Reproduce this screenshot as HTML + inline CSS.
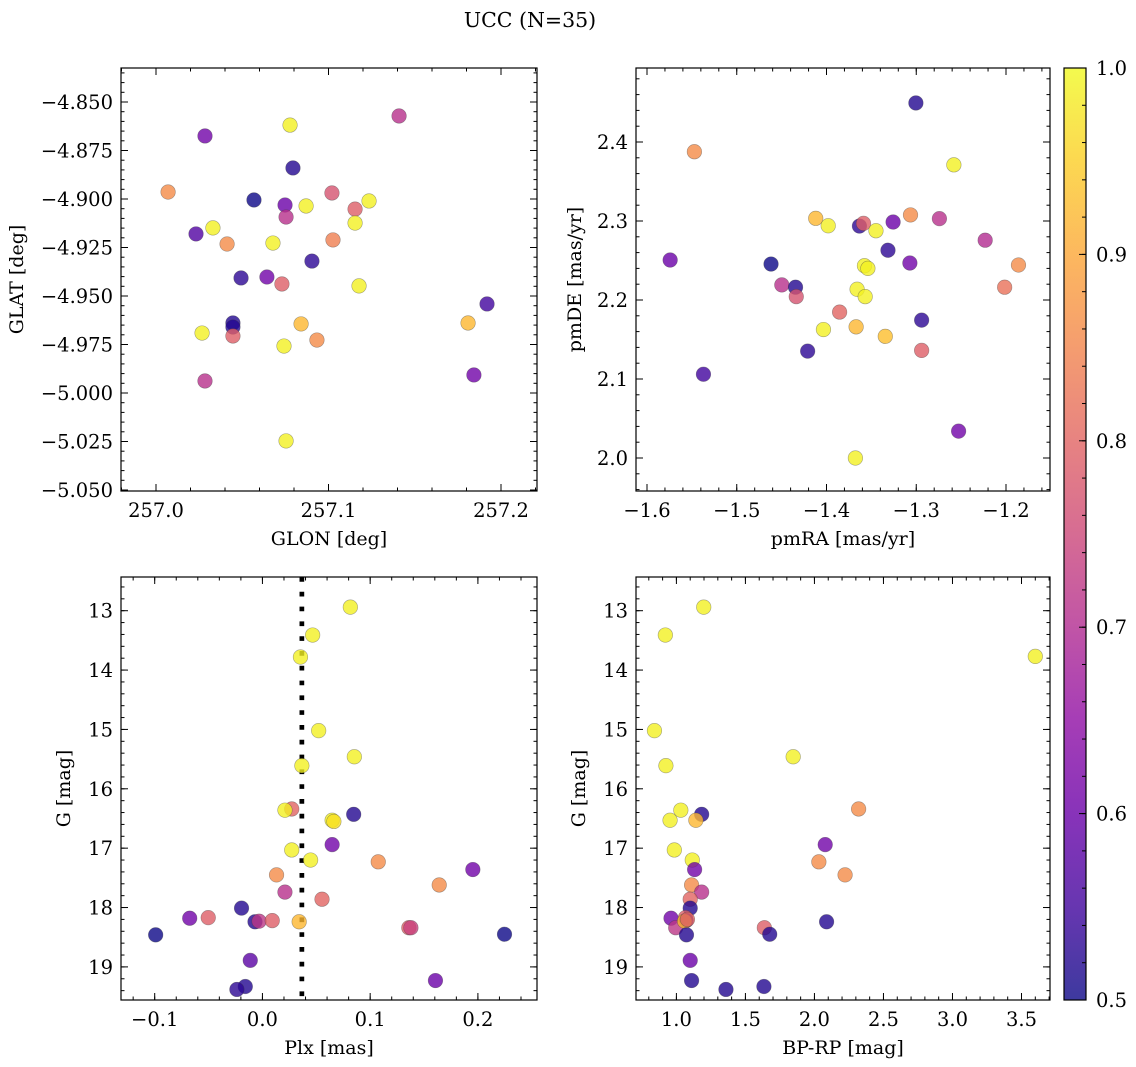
<!DOCTYPE html>
<html><head><meta charset="utf-8"><title>UCC (N=35)</title>
<style>
html,body{margin:0;padding:0;background:#fff;}
svg{display:block;font-family:"DejaVu Serif","Liberation Serif",serif;}
</style></head>
<body>
<svg id="fig" width="1136" height="1067" viewBox="0 0 1136 1067" xmlns="http://www.w3.org/2000/svg">
<defs>
<linearGradient id="plasmaGrad" x1="0" y1="1" x2="0" y2="0">
<stop offset="0" stop-color="#0d0887"/><stop offset="0.1" stop-color="#41049d"/><stop offset="0.2" stop-color="#6a00a8"/><stop offset="0.3" stop-color="#8f0da4"/><stop offset="0.4" stop-color="#b12a90"/><stop offset="0.5" stop-color="#cc4778"/><stop offset="0.6" stop-color="#e16462"/><stop offset="0.7" stop-color="#f2844b"/><stop offset="0.8" stop-color="#fca636"/><stop offset="0.9" stop-color="#fcce25"/><stop offset="1" stop-color="#f0f921"/>
</linearGradient>
</defs>
<text x="530" y="27" font-size="20.5" text-anchor="middle">UCC (N=35)</text>
</svg>
<script>
// ---------- Data ----------
const glon = [257.0284,257.0777,257.1409,257.0794,257.0070,257.0568,257.0748,257.0754,257.1020,257.0870,257.1154,257.1235,257.1154,257.0330,257.0232,257.0412,257.0678,257.1026,257.0904,257.0493,257.0643,257.0730,257.1177,257.1919,257.0446,257.0446,257.0446,257.0267,257.0841,257.1809,257.0742,257.0933,257.0284,257.1843,257.0754];
const glat = [-4.8675,-4.8619,-4.8572,-4.8840,-4.8964,-4.9005,-4.9031,-4.9093,-4.8969,-4.9036,-4.9052,-4.9010,-4.9124,-4.9149,-4.9180,-4.9232,-4.9227,-4.9211,-4.9320,-4.9407,-4.9402,-4.9438,-4.9448,-4.9541,-4.9639,-4.9660,-4.9706,-4.9691,-4.9644,-4.9639,-4.9758,-4.9727,-4.9938,-4.9907,-5.0247];
const probPos = [0.61,0.99,0.71,0.52,0.86,0.50,0.60,0.71,0.77,0.99,0.79,0.99,0.99,0.99,0.57,0.86,0.99,0.84,0.53,0.53,0.61,0.79,0.99,0.55,0.52,0.52,0.79,0.99,0.92,0.92,0.99,0.86,0.71,0.61,0.99];

const pmra = [-1.3004,-1.5472,-1.2581,-1.4120,-1.3981,-1.3633,-1.3588,-1.3449,-1.3258,-1.3064,-1.2742,-1.2232,-1.5742,-1.4618,-1.3315,-1.3071,-1.3577,-1.3539,-1.1861,-1.2015,-1.4498,-1.4345,-1.4337,-1.3854,-1.3659,-1.3569,-1.2940,-1.4034,-1.3670,-1.3345,-1.4210,-1.2940,-1.5371,-1.2528,-1.3678];
const pmde = [2.4494,2.3877,2.3711,2.3034,2.2940,2.2936,2.2970,2.2877,2.2987,2.3077,2.3030,2.2757,2.2506,2.2455,2.2630,2.2468,2.2434,2.2400,2.2443,2.2162,2.2191,2.2162,2.2043,2.1847,2.2136,2.2043,2.1745,2.1626,2.1660,2.1540,2.1353,2.1362,2.1060,2.0340,2.0000];
const probPm = [0.52,0.86,0.99,0.92,0.99,0.53,0.79,0.99,0.60,0.86,0.71,0.70,0.60,0.50,0.53,0.61,0.99,0.99,0.86,0.82,0.71,0.52,0.77,0.80,0.99,0.99,0.53,0.99,0.92,0.93,0.53,0.79,0.55,0.61,0.99];

const plx = [0.0816,0.0466,0.0353,0.0522,0.0853,0.0366,0.0272,0.0209,0.0847,0.0647,0.0663,0.0647,0.0272,0.0447,0.1075,0.1953,0.0131,0.1641,0.0209,0.0553,-0.0194,-0.0675,-0.0503,-0.0069,-0.0031,0.0091,0.0341,0.1359,0.1378,-0.0991,0.2247,-0.0113,0.1606,-0.0159,-0.0237];
const gPlx = [12.94,13.41,13.78,15.02,15.46,15.61,16.34,16.36,16.43,16.53,16.55,16.94,17.03,17.20,17.23,17.36,17.45,17.62,17.74,17.86,18.01,18.18,18.17,18.24,18.23,18.22,18.24,18.34,18.34,18.46,18.45,18.89,19.23,19.33,19.38];
const probPlx = [0.99,0.99,0.99,0.99,0.99,0.99,0.80,0.99,0.52,0.99,0.97,0.61,0.99,0.99,0.86,0.61,0.86,0.86,0.71,0.80,0.52,0.61,0.79,0.52,0.72,0.79,0.92,0.79,0.74,0.50,0.50,0.58,0.60,0.52,0.53];

const bprp = [1.198,0.920,3.600,0.841,0.924,1.846,2.320,1.032,1.183,0.954,1.141,2.078,0.985,1.115,2.032,1.132,2.222,1.110,1.183,1.100,1.100,0.961,1.066,1.071,0.995,1.059,2.088,1.637,1.676,1.073,1.100,1.110,1.359,1.634,1.080];
const gCmd = [12.94,13.41,13.77,15.02,15.61,15.46,16.34,16.36,16.43,16.53,16.53,16.94,17.03,17.20,17.23,17.36,17.45,17.62,17.74,17.86,18.01,18.18,18.17,18.22,18.34,18.23,18.24,18.34,18.45,18.46,18.89,19.23,19.38,19.33,18.20];
const probCmd = [0.99,0.99,0.99,0.99,0.99,0.99,0.86,0.99,0.52,0.99,0.92,0.61,0.99,0.99,0.86,0.61,0.86,0.86,0.71,0.80,0.52,0.61,0.79,0.52,0.72,0.92,0.52,0.79,0.52,0.52,0.60,0.52,0.52,0.52,0.80];

const plxLine = [0.0366];

const ticksGlon = [257.0,257.1,257.2];
const ticksGlat = [-4.850,-4.875,-4.900,-4.925,-4.950,-4.975,-5.000,-5.025,-5.050];
const ticksPmra = [-1.6,-1.5,-1.4,-1.3,-1.2];
const ticksPmde = [2.0,2.1,2.2,2.3,2.4];
const ticksPlx = [-0.1,0.0,0.1,0.2];
const ticksG = [13,14,15,16,17,18,19];
const ticksBprp = [1.0,1.5,2.0,2.5,3.0,3.5];
const ticksCbar = [0.5,0.6,0.7,0.8,0.9,1.0];

// ---------- Helpers ----------
const NS = "http://www.w3.org/2000/svg";
const svg = document.getElementById('fig');
const TICKFS = 19.5, LABFS = 19;
function mk(tag, attrs, parent){
  const e = document.createElementNS(NS, tag);
  for (const k in attrs) e.setAttribute(k, attrs[k]);
  (parent||svg).appendChild(e);
  return e;
}
function lin(d0,d1,p0,p1){ const f=v=>p0+(v-d0)*(p1-p0)/(d1-d0); f.inv=p=>d0+(p-p0)*(d1-d0)/(p1-p0); return f; }
const stops=[[13,8,135],[65,4,157],[106,0,168],[143,13,164],[177,42,144],[204,71,120],[225,100,98],[242,132,75],[252,166,54],[252,206,37],[240,249,33]];
function plasma(p){
  let t=Math.max(0,Math.min(1,(p-0.5)/0.5))*10; const i=Math.min(9,Math.floor(t)); const f=t-i;
  const a=stops[i], b=stops[i+1];
  return 'rgb('+[0,1,2].map(k=>Math.round(a[k]+(b[k]-a[k])*f)).join(',')+')';
}
function fmt(v,d){ const s=Math.abs(v).toFixed(d); return (v<0?'\u2212':'')+s; }

function axes(name, box, xs, ys, xTicks, xDec, xMinor, yTicks, yDec, yMinor, xlabel, ylabel, ylabelX){
  const [L,T,R,B]=box;
  const g = mk('g',{});
  
  
  const tk = mk('g',{stroke:'#000','stroke-width':1},g);
  
  
  const x0=xs.inv(L), x1=xs.inv(R);
  for(let v=Math.ceil(Math.min(x0,x1)/xMinor-1e-6)*xMinor; v<=Math.max(x0,x1)+1e-9; v+=xMinor){
    const px=xs(v); if(px<L+0.5||px>R-0.5) continue;
    mk('line',{x1:px,y1:B,x2:px,y2:B-3.5},tk); mk('line',{x1:px,y1:T,x2:px,y2:T+3.5},tk);
  }
  const y0=ys.inv(T), y1=ys.inv(B);
  for(let v=Math.ceil(Math.min(y0,y1)/yMinor-1e-6)*yMinor; v<=Math.max(y0,y1)+1e-9; v+=yMinor){
    const py=ys(v); if(py<T+0.5||py>B-0.5) continue;
    mk('line',{x1:L,y1:py,x2:L+3.5,y2:py},tk); mk('line',{x1:R,y1:py,x2:R-3.5,y2:py},tk);
  }
  xTicks.forEach(v=>{
    const px=xs(v);
    mk('line',{x1:px,y1:B,x2:px,y2:B-7},tk); mk('line',{x1:px,y1:T,x2:px,y2:T+7},tk);
    const t=mk('text',{x:px,y:B+26,'font-size':TICKFS,'text-anchor':'middle'},g); t.textContent=fmt(v,xDec);
    
    
  });
  yTicks.forEach(v=>{
    const py=ys(v);
    mk('line',{x1:L,y1:py,x2:L+7,y2:py},tk); mk('line',{x1:R,y1:py,x2:R-7,y2:py},tk);
    const t=mk('text',{x:L-8,y:py+7,'font-size':TICKFS,'text-anchor':'end'},g); t.textContent=fmt(v,yDec);
    
    
  });
  const fr=mk('rect',{x:L,y:T,width:R-L,height:B-T,fill:'none',stroke:'#000','stroke-width':1.2},g);
  
  
  const xl=mk('text',{x:(L+R)/2,y:B+54,'font-size':LABFS,'text-anchor':'middle'},g); xl.textContent=xlabel;
  
  
  const yl=mk('text',{x:0,y:0,'font-size':LABFS,'text-anchor':'middle',transform:'translate('+ylabelX+','+((T+B)/2)+') rotate(-90)'},g); yl.textContent=ylabel;
  
  
  return g;
}
function scatter(name, xs, ys, X, Y, P){
  const g=mk('g',{});
  
  
  for(let i=0;i<X.length;i++){
    const c=mk('circle',{cx:xs(X[i]),cy:ys(Y[i]),r:7.3,fill:plasma(P[i]),'fill-opacity':0.8,stroke:'rgba(60,60,60,0.45)','stroke-width':0.6},g);
    
    
  }
}

// ---------- Panel 1 ----------
const s1x=lin(257.0,257.2,156,501), s1y=lin(-4.85,-5.05,102,490);
axes('position-panel',[121,68,537,491],s1x,s1y,ticksGlon,1,0.02,ticksGlat,3,0.005,'GLON [deg]','GLAT [deg]',23);
scatter('position',s1x,s1y,glon,glat,probPos);

// ---------- Panel 2 ----------
const s2x=lin(-1.6,-1.2,647,1006), s2y=lin(2.4,2.0,142,458);
axes('proper-motion-panel',[636,68,1050,491],s2x,s2y,ticksPmra,1,0.02,ticksPmde,1,0.02,'pmRA [mas/yr]','pmDE [mas/yr]',581);
scatter('proper-motion',s2x,s2y,pmra,pmde,probPm);

// ---------- Panel 3 ----------
const s3x=lin(-0.1,0.2,154.7,477.9), s3y=lin(13,19,610.7,966.9);
axes('parallax-panel',[121,577,537,1000],s3x,s3y,ticksPlx,1,0.02,ticksG,0,0.2,'Plx [mas]','G [mag]',70);
plxLine.forEach(v=>{
  const l=mk('line',{x1:s3x(v),y1:577,x2:s3x(v),y2:1000,stroke:'#000','stroke-width':4.7,'stroke-dasharray':'4.7 10.1'});
  
  
});
scatter('parallax',s3x,s3y,plx,gPlx,probPlx);

// ---------- Panel 4 ----------
const s4x=lin(1.0,3.5,676.4,1021.5), s4y=lin(13,19,610.7,966.9);
axes('cmd-panel',[636,577,1050,1000],s4x,s4y,ticksBprp,1,0.1,ticksG,0,0.2,'BP-RP [mag]','G [mag]',585);
scatter('cmd',s4x,s4y,bprp,gCmd,probCmd);

// ---------- Colorbar ----------
const cs=lin(0.5,1.0,1000,68);
const cb=mk('g',{});


mk('rect',{x:1064,y:68,width:22,height:932,fill:'url(#plasmaGrad)','fill-opacity':0.8},cb);
mk('rect',{x:1064,y:68,width:22,height:932,fill:'none',stroke:'#000','stroke-width':1.2},cb);
for(let v=0.52; v<0.999; v+=0.02){ const py=cs(v); mk('line',{x1:1086,y1:py,x2:1082,y2:py,stroke:'#000','stroke-width':1},cb); }
ticksCbar.forEach(v=>{
  const py=cs(v);
  mk('line',{x1:1086,y1:py,x2:1079,y2:py,stroke:'#000','stroke-width':1},cb);
  const t=mk('text',{x:1096,y:py+7,'font-size':TICKFS},cb); t.textContent=v.toFixed(1);
  
  
});
</script>
</body></html>
